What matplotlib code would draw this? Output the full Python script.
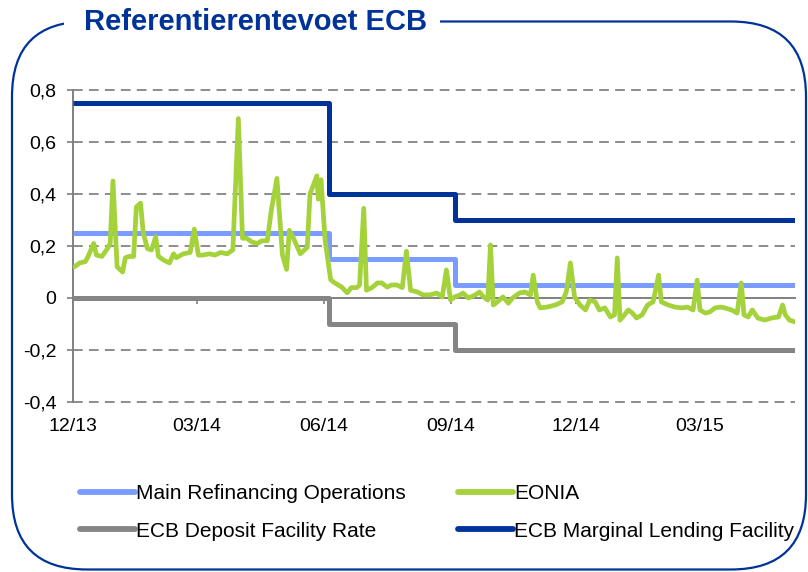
import matplotlib
matplotlib.use('Agg')
import matplotlib.pyplot as plt
import matplotlib.dates as mdates
import matplotlib.transforms as mtransforms
from matplotlib.patches import FancyBboxPatch, Rectangle
import pandas as pd

plt.rcParams['font.family'] = ['Liberation Sans', 'DejaVu Sans']

# ---------------- data ----------------
policy_dates = ['2013-12-01', '2014-06-05', '2014-09-04', '2015-05-09']
mro = [0.25, 0.15, 0.05, 0.05]
deposit = [0.00, -0.10, -0.20, -0.20]
marginal = [0.75, 0.40, 0.30, 0.30]

eonia_dates = [
    '2013-12-02', '2013-12-06', '2013-12-10', '2013-12-12', '2013-12-16', '2013-12-18',
    '2013-12-22', '2013-12-26', '2013-12-28', '2013-12-30', '2014-01-02', '2014-01-06',
    '2014-01-08', '2014-01-11', '2014-01-14', '2014-01-16', '2014-01-19', '2014-01-21',
    '2014-01-24', '2014-01-27', '2014-01-30', '2014-02-01', '2014-02-05', '2014-02-09',
    '2014-02-12', '2014-02-14', '2014-02-19', '2014-02-24', '2014-02-27', '2014-03-02',
    '2014-03-05', '2014-03-10', '2014-03-14', '2014-03-18', '2014-03-23', '2014-03-27',
    '2014-03-31', '2014-04-03', '2014-04-06', '2014-04-10', '2014-04-14', '2014-04-17',
    '2014-04-21', '2014-04-24', '2014-04-28', '2014-05-02', '2014-05-05', '2014-05-07',
    '2014-05-10', '2014-05-15', '2014-05-20', '2014-05-22', '2014-05-27', '2014-05-28',
    '2014-05-30', '2014-06-02', '2014-06-06', '2014-06-09', '2014-06-14', '2014-06-18',
    '2014-06-21', '2014-06-25', '2014-06-27', '2014-06-30', '2014-07-02', '2014-07-06',
    '2014-07-10', '2014-07-13', '2014-07-17', '2014-07-20', '2014-07-24', '2014-07-28',
    '2014-07-31', '2014-08-03', '2014-08-08', '2014-08-12', '2014-08-17', '2014-08-22',
    '2014-08-26', '2014-08-29', '2014-09-01', '2014-09-04', '2014-09-08', '2014-09-10',
    '2014-09-14', '2014-09-19', '2014-09-22', '2014-09-25', '2014-09-28', '2014-09-30',
    '2014-10-02', '2014-10-05', '2014-10-09', '2014-10-13', '2014-10-16', '2014-10-21',
    '2014-10-25', '2014-10-29', '2014-10-31', '2014-11-03', '2014-11-05', '2014-11-10',
    '2014-11-16', '2014-11-21', '2014-11-24', '2014-11-27', '2014-11-30', '2014-12-04',
    '2014-12-08', '2014-12-11', '2014-12-15', '2014-12-18', '2014-12-22', '2014-12-26',
    '2014-12-29', '2014-12-31', '2015-01-02', '2015-01-04', '2015-01-08', '2015-01-11',
    '2015-01-14', '2015-01-18', '2015-01-22', '2015-01-26', '2015-01-30', '2015-02-01',
    '2015-02-06', '2015-02-11', '2015-02-16', '2015-02-20', '2015-02-24', '2015-02-27',
    '2015-03-01', '2015-03-05', '2015-03-08', '2015-03-12', '2015-03-16', '2015-03-19',
    '2015-03-24', '2015-03-28', '2015-03-31', '2015-04-02', '2015-04-05', '2015-04-08',
    '2015-04-12', '2015-04-17', '2015-04-22', '2015-04-27', '2015-04-30', '2015-05-02',
    '2015-05-05', '2015-05-09',
]
eonia = [
    0.12, 0.135, 0.14, 0.16, 0.21, 0.165,
    0.16, 0.19, 0.21, 0.45, 0.12, 0.10,
    0.155, 0.16, 0.16, 0.35, 0.365, 0.25,
    0.19, 0.185, 0.235, 0.16, 0.145, 0.135,
    0.17, 0.155, 0.17, 0.175, 0.265, 0.165,
    0.165, 0.17, 0.165, 0.175, 0.17, 0.185,
    0.69, 0.23, 0.23, 0.215, 0.21, 0.22,
    0.22, 0.34, 0.46, 0.165, 0.11, 0.26,
    0.23, 0.17, 0.195, 0.40, 0.47, 0.38,
    0.455, 0.22, 0.07, 0.058, 0.042, 0.02,
    0.04, 0.04, 0.05, 0.345, 0.03, 0.04,
    0.058, 0.058, 0.042, 0.05, 0.05, 0.04,
    0.18, 0.03, 0.023, 0.012, 0.012, 0.019,
    0.004, 0.108, -0.008, 0.004, 0.012, 0.019,
    0.0, 0.012, 0.023, 0.004, -0.008, 0.204,
    -0.027, -0.015, 0.004, -0.02, 0.0, 0.019,
    0.023, 0.012, 0.088, -0.015, -0.038, -0.035,
    -0.027, -0.015, 0.023, 0.135, 0.004, -0.027,
    -0.046, -0.008, -0.015, -0.046, -0.038, -0.073,
    -0.065, 0.154, -0.085, -0.073, -0.046, -0.058,
    -0.077, -0.065, -0.027, -0.015, 0.088, -0.015,
    -0.027, -0.035, -0.038, -0.035, -0.046, 0.069,
    -0.046, -0.058, -0.054, -0.038, -0.035, -0.038,
    -0.046, -0.058, 0.058, -0.065, -0.073, -0.046,
    -0.077, -0.085, -0.077, -0.073, -0.027, -0.065,
    -0.085, -0.092,
]

x_tick_dates = ['2013-12-01', '2014-03-01', '2014-06-01', '2014-09-01', '2014-12-01', '2015-03-01']
x_tick_labels = ['12/13', '03/14', '06/14', '09/14', '12/14', '03/15']
y_ticks = [-0.4, -0.2, 0.0, 0.2, 0.4, 0.6, 0.8]
y_tick_labels = ['-0,4', '-0,2', '0', '0,2', '0,4', '0,6', '0,8']

series_names = ['Main Refinancing Operations', 'EONIA',
                'ECB Deposit Facility Rate', 'ECB Marginal Lending Facility']
title = 'Referentierentevoet ECB'

# ---------------- styling ----------------
C_MRO = '#7A9BFF'
C_EONIA = '#A4D23A'
C_DF = '#858585'
C_MLF = '#003399'
C_FRAME = '#003399'
C_GRID = '#8C8C8C'

W, H = 808, 572
fig = plt.figure(figsize=(W / 100, H / 100), dpi=100)

# overlay (pixel coords) for frame and title
ov = fig.add_axes([0, 0, 1, 1], zorder=0)
ov.set_xlim(0, W)
ov.set_ylim(H, 0)
ov.axis('off')
frame = FancyBboxPatch((12, 21.5), 794, 548, boxstyle='round,pad=0,rounding_size=75',
                       fill=False, edgecolor=C_FRAME, linewidth=1.6)
ov.add_patch(frame)
ov.add_patch(Rectangle((64, 8), 376, 28, facecolor='white', edgecolor='none', zorder=3))
ov.text(84, 22, title, fontsize=21, fontweight='bold', color=C_FRAME,
        ha='left', va='center', zorder=4)

# main axes
ax = fig.add_axes([73 / W, 1 - 402 / H, (795 - 73) / W, (402 - 90) / H], zorder=1)
ax.set_facecolor('none')

pdates = pd.to_datetime(policy_dates)
edates = pd.to_datetime(eonia_dates)

l_mro, = ax.plot(pdates, mro, drawstyle='steps-post', color=C_MRO, lw=3.6,
                 solid_capstyle='butt', zorder=3)
l_eon, = ax.plot(edates, eonia, color=C_EONIA, lw=3.4, solid_joinstyle='round',
                 solid_capstyle='round', zorder=4)
l_df, = ax.plot(pdates, deposit, drawstyle='steps-post', color=C_DF, lw=3.6,
                solid_capstyle='butt', zorder=5)
l_mlf, = ax.plot(pdates, marginal, drawstyle='steps-post', color=C_MLF, lw=3.6,
                 solid_capstyle='butt', zorder=6)

ax.set_xlim(pd.Timestamp('2013-12-01'), pd.Timestamp('2015-05-09'))
ax.set_ylim(-0.4, 0.8)

ax.set_yticks(y_ticks)
ax.set_yticklabels(y_tick_labels)
ax.set_xticks(pd.to_datetime(x_tick_dates))
ax.set_xticklabels([])

for yv in y_ticks:
    if yv != 0:
        ax.axhline(yv, color=C_GRID, lw=1.4, linestyle=(0, (5, 3.2)), zorder=1, clip_on=False)

for s in ['top', 'right']:
    ax.spines[s].set_visible(False)
ax.spines['left'].set_color('#808080')
ax.spines['left'].set_linewidth(1.4)
ax.spines['bottom'].set_position(('data', 0))
ax.spines['bottom'].set_color('#808080')
ax.spines['bottom'].set_linewidth(1.4)
ax.spines['bottom'].set_zorder(2)

ax.tick_params(axis='y', direction='out', length=4, width=1.2, color='#808080',
               labelsize=14, pad=8, labelcolor='black')
ax.tick_params(axis='x', direction='out', length=4, width=1.2, color='#808080')

trans = mtransforms.blended_transform_factory(ax.transData, ax.transAxes)
for d, lab in zip(pd.to_datetime(x_tick_dates), x_tick_labels):
    ax.text(d, -0.078, lab, transform=trans, ha='center', va='center', fontsize=14)

# legend
leg = fig.legend([l_mro, l_df, l_eon, l_mlf],
                 [series_names[0], series_names[2], series_names[1], series_names[3]],
                 ncol=2, loc='upper left', bbox_to_anchor=(80 / W, 1 - 484 / H),
                 frameon=False, fontsize=15, handlelength=2.65, handletextpad=0.05,
                 columnspacing=2.5, labelspacing=0.9, borderpad=0, borderaxespad=0)
for h in leg.legend_handles:
    h.set_linewidth(4.2)
    h.set_solid_capstyle('round')

fig.savefig('out.png', dpi=100)
